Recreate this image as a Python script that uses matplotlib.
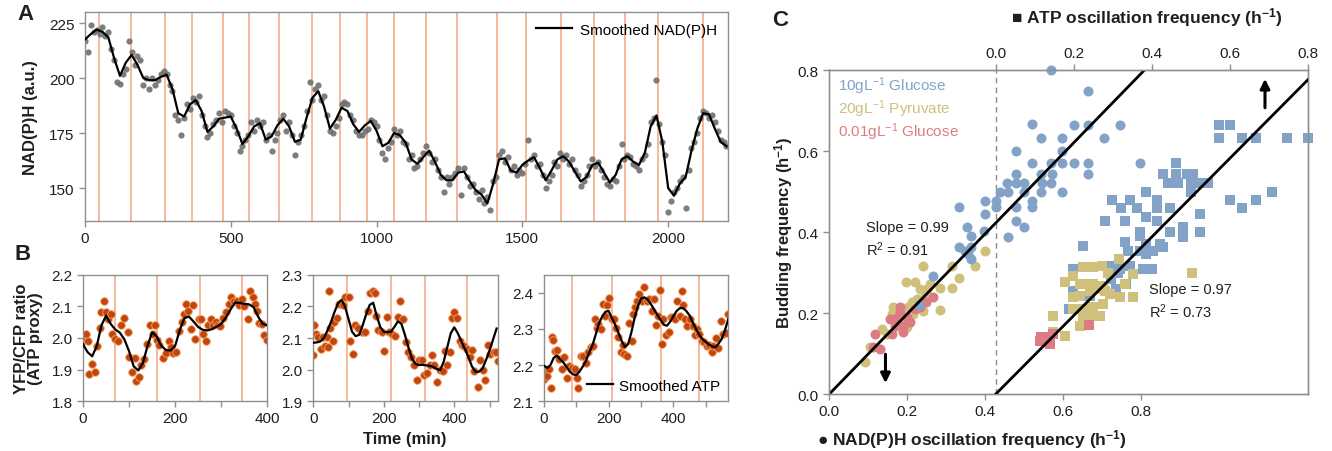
import numpy as np
import matplotlib
matplotlib.use('Agg')
import matplotlib.pyplot as plt
from matplotlib.lines import Line2D

plt.rcParams['font.family'] = ['Liberation Sans', 'DejaVu Sans']
plt.rcParams['mathtext.fontset'] = 'custom'
plt.rcParams['mathtext.rm'] = 'Liberation Sans'
plt.rcParams['mathtext.it'] = 'Liberation Sans:italic'
plt.rcParams['mathtext.bf'] = 'Liberation Sans:bold'

# ---------------- panel A: NAD(P)H trace ----------------
a_time = np.arange(0, 2201, 10)
a_nadph = [
    217, 212, 224, 221, 222, 220, 223, 219, 221, 213,
    208, 198, 197.5, 202, 204, 217, 212, 206, 210, 208,
    197, 200, 195, 200, 197, 199, 202, 203, 202, 197,
    194, 183, 181, 174, 182, 188, 186, 191, 189, 192,
    183, 178, 173, 175, 179, 181, 184, 180, 185, 184,
    183, 178, 175, 167, 169, 172, 174, 180, 176, 181,
    178, 180, 172, 174, 167, 172, 175, 181, 183, 176,
    180, 174, 165, 171, 174, 178, 185, 198, 190, 195,
    197, 190, 192, 183, 176, 175, 178, 182, 188, 189,
    188, 183, 181, 176, 174, 174, 176, 177, 181, 180,
    178, 172, 166, 163, 168, 171, 177, 174, 176, 171,
    170, 163, 165, 159, 160, 163, 166, 169, 166, 162,
    163, 158, 155, 148, 155, 152, 155, 157, 159, 147,
    159, 155, 151, 152, 148, 145, 149, 143, 146, 140,
    153, 155, 165, 167, 162, 164, 158, 160, 156, 158,
    157, 161, 172, 163, 165, 160, 161, 156, 150, 153,
    156, 162, 160, 166, 163, 165, 161, 163, 158, 156,
    151, 153, 156, 160, 163, 160, 162, 158, 155, 152,
    151, 154, 153, 160, 170, 163, 165, 164, 161, 160,
    158, 163, 165, 170, 180, 182, 199, 179, 171, 165,
    139, 144, 148, 150, 153, 155, 141, 158, 168, 171,
    175, 182, 185, 184, 182, 183, 180, 176, 172, 171,
    169,
]
a_smooth_time = np.arange(0, 2201, 20)
a_smooth = [
    217.5, 220, 222, 221, 218.5, 209, 201, 207, 210.5, 206,
    200, 199, 199, 200.5, 201.5, 195, 184, 182.5, 188, 190,
    185, 175.5, 178, 181.5, 182, 182.5, 177, 170, 173.5, 178,
    179.5, 172, 173.5, 178.5, 181.5, 178, 171, 172, 182, 191,
    194, 187, 177, 181, 186.5, 185, 179, 175.5, 178.5, 180.5,
    176, 169, 170.5, 175, 174, 170.5, 163, 161, 164, 167,
    162, 156, 153.5, 153.5, 157, 157.5, 153, 149, 147, 143,
    152, 163, 163.5, 158, 157, 160.5, 162.5, 164, 159, 153.5,
    158, 163, 164.5, 162, 157.5, 153, 155, 160.5, 161.5, 157,
    152.5, 156, 163, 164.5, 162, 160.5, 166, 178, 183, 171,
    150, 146.5, 152, 155, 167, 177, 184, 183.5, 177, 171,
    169,
]
a_events = [48, 158, 274, 367, 473, 563, 666, 779, 875, 968,
            1060, 1170, 1276, 1413, 1513, 1633, 1746, 1852, 1966, 2120]

# ---------------- panel B: ATP (YFP/CFP) traces ----------------
b1_time = [0, 6, 11, 13, 20, 25, 31, 36, 40, 45, 49, 54, 60, 63, 69, 76, 83, 90, 97, 99,
           107, 112, 115, 121, 126, 133, 139, 146, 151, 156, 161, 166, 173, 180, 186, 190,
           195, 202, 209, 214, 220, 223, 228, 234, 238, 244, 251, 256, 261, 267, 272, 277,
           283, 288, 292, 297, 303, 310, 316, 321, 328, 334, 339, 344, 350, 357, 362, 368,
           373, 378, 382, 389, 393, 400]
b1_ratio = [1.989, 2.013, 1.99, 1.886, 1.918, 1.892, 1.976, 2.031, 2.084, 2.119,
            2.082, 2.061, 2.077, 2.013, 1.997, 1.992, 2.04, 2.063, 2.018, 1.939,
            1.892, 1.936, 1.862, 1.877, 1.913, 1.934, 1.982, 2.04, 2.013, 2.04,
            1.995, 1.978, 1.936, 1.952, 1.989, 1.971, 1.952, 1.955, 2.021, 2.05,
            2.077, 2.108, 2.087, 2.029, 2.105, 1.997, 2.061, 2.061, 2.013, 1.992,
            2.042, 2.061, 2.042, 2.052, 2.04, 2.037, 2.063, 2.082, 2.108, 2.129,
            2.119, 2.119, 2.105, 2.124, 2.101, 2.061, 2.15, 2.129, 2.108, 2.087,
            2.048, 2.045, 2.008, 1.995]
b1_smooth = [1.98, 1.955, 1.942, 1.975, 2.04, 2.071, 2.045, 2.027, 2.017, 1.995,
             1.958, 1.91, 1.897, 1.92, 1.975, 2.018, 2.005, 1.975, 1.962, 1.96,
             1.975, 2.025, 2.063, 2.068, 2.052, 2.035, 2.026, 2.024, 2.028, 2.036,
             2.045, 2.065, 2.09, 2.112, 2.112, 2.108, 2.107, 2.098, 2.068, 2.045,
             2.04]
b1_events = [70, 160, 254, 344]

b2_time = [0, 3, 8, 14, 21, 27, 33, 38, 43, 45, 47, 55, 59, 66, 74, 83, 90, 100, 104, 114,
           119, 128, 137, 147, 154, 161, 169, 175, 178, 185, 194, 201, 209, 216, 223, 232,
           239, 245, 254, 264, 270, 277, 286, 294, 301, 309, 315, 322, 330, 337, 343, 351,
           360, 368, 374, 379, 387, 393, 400, 408, 415, 422, 428, 436, 444, 450, 455, 466,
           474, 482, 488, 495, 502, 512, 519, 523]
b2_ratio = [2.047, 2.142, 2.113, 2.103, 2.066, 2.103, 2.076, 2.103, 2.071, 2.25,
            2.131, 2.089, 2.152, 2.163, 2.208, 2.205, 2.23, 2.231, 2.092, 2.05,
            2.14, 2.131, 2.118, 2.118, 2.187, 2.243, 2.25, 2.243, 2.171, 2.124,
            2.118, 2.06, 2.168, 2.118, 2.113, 2.105, 2.166, 2.216, 2.161, 2.087,
            2.055, 2.039, 2.013, 1.968, 2.029, 2.029, 1.981, 1.99, 2.015, 2.045,
            2.013, 1.96, 1.997, 1.994, 2.06, 2.015, 2.055, 2.163, 2.182, 2.163,
            2.089, 2.078, 2.076, 2.064, 2.039, 2.063, 1.994, 1.944, 2.029, 1.997,
            1.968, 2.078, 2.05, 2.057, 2.057, 2.026]
b2_smooth = [2.085, 2.086, 2.089, 2.1, 2.123, 2.15, 2.182, 2.21, 2.221, 2.2,
             2.16, 2.12, 2.106, 2.11, 2.14, 2.175, 2.205, 2.212, 2.17, 2.135,
             2.12, 2.118, 2.12, 2.135, 2.153, 2.145, 2.11, 2.07, 2.035, 2.018,
             2.014, 2.015, 2.013, 2.012, 2.008, 2.002, 1.998, 2.025, 2.07, 2.115,
             2.134, 2.115, 2.09, 2.065, 2.04, 2.01, 1.993, 1.993, 2.003, 2.03,
             2.06, 2.095, 2.13]
b2_events = [95, 220, 316, 437]

b3_time = [0, 5, 8, 16, 21, 24, 29, 34, 41, 47, 55, 62, 70, 78, 86, 96, 103, 106, 113, 122,
           130, 137, 144, 151, 158, 163, 168, 175, 181, 189, 194, 201, 209, 216, 223, 230,
           237, 243, 247, 256, 264, 271, 276, 281, 289, 295, 302, 309, 318, 326, 333, 340,
           346, 354, 359, 364, 369, 377, 385, 392, 398, 405, 412, 419, 426, 431, 436, 443,
           452, 460, 467, 474, 480, 488, 495, 503, 511, 519, 524, 532, 539, 546, 555, 563,
           570]
b3_ratio = [2.162, 2.184, 2.17, 2.188, 2.137, 2.277, 2.27, 2.239, 2.242, 2.216,
            2.188, 2.221, 2.165, 2.198, 2.193, 2.19, 2.165, 2.137, 2.225, 2.224,
            2.205, 2.235, 2.249, 2.253, 2.329, 2.304, 2.314, 2.3, 2.369, 2.337,
            2.367, 2.385, 2.329, 2.327, 2.304, 2.279, 2.235, 2.255, 2.23, 2.225,
            2.318, 2.267, 2.342, 2.36, 2.379, 2.397, 2.379, 2.416, 2.379, 2.383,
            2.351, 2.383, 2.311, 2.337, 2.408, 2.258, 2.329, 2.283, 2.292, 2.332,
            2.332, 2.329, 2.379, 2.337, 2.406, 2.367, 2.329, 2.309, 2.327, 2.309,
            2.283, 2.3, 2.286, 2.267, 2.263, 2.253, 2.255, 2.237, 2.253, 2.274,
            2.246, 2.323, 2.286, 2.29, 2.342]
b3_smooth = [2.198, 2.192, 2.2, 2.22, 2.226, 2.216, 2.207, 2.194, 2.181, 2.174,
             2.172, 2.182, 2.196, 2.212, 2.235, 2.255, 2.285, 2.315, 2.335, 2.348,
             2.35, 2.33, 2.312, 2.29, 2.267, 2.25, 2.258, 2.29, 2.33, 2.362,
             2.385, 2.388, 2.382, 2.37, 2.355, 2.34, 2.326, 2.312, 2.309, 2.32,
             2.335, 2.35, 2.358, 2.358, 2.35, 2.338, 2.318, 2.3, 2.284, 2.272,
             2.264, 2.257, 2.252, 2.249, 2.26, 2.273, 2.298, 2.328]
b3_events = [86, 209, 361, 479]

# ---------------- panel C: frequencies ----------------
# circles: NAD(P)H frequency (bottom axis); squares: ATP frequency (top axis)
glc_nad_x = [0.569, 0.519, 0.543, 0.478, 0.519, 0.569, 0.478, 0.455, 0.478, 0.500,
             0.543, 0.569, 0.438, 0.459, 0.500, 0.543, 0.400, 0.427, 0.519, 0.519,
             0.333, 0.400, 0.427, 0.478, 0.478, 0.500, 0.352, 0.363, 0.397, 0.664,
             0.628, 0.664, 0.745, 0.597, 0.703, 0.597, 0.597, 0.628, 0.664, 0.797,
             0.570, 0.664, 0.545, 0.597, 0.459, 0.333, 0.348, 0.363, 0.356, 0.363,
             0.265, 0.231]
glc_nad_y = [0.800, 0.667, 0.631, 0.599, 0.570, 0.570, 0.543, 0.521, 0.521, 0.521,
             0.543, 0.521, 0.500, 0.500, 0.500, 0.500, 0.477, 0.477, 0.477, 0.461,
             0.461, 0.444, 0.461, 0.461, 0.428, 0.412, 0.412, 0.389, 0.403, 0.749,
             0.665, 0.665, 0.665, 0.631, 0.631, 0.601, 0.570, 0.570, 0.570, 0.570,
             0.543, 0.543, 0.521, 0.500, 0.387, 0.362, 0.354, 0.362, 0.346, 0.333,
             0.292, 0.220]
pyr_nad_x = [0.400, 0.374, 0.333, 0.314, 0.314, 0.284, 0.284, 0.241, 0.197, 0.233,
             0.250, 0.258, 0.245, 0.224, 0.211, 0.203, 0.164, 0.160, 0.190, 0.198,
             0.177, 0.147, 0.104, 0.092, 0.220, 0.239, 0.215, 0.134]
pyr_nad_y = [0.352, 0.315, 0.286, 0.261, 0.315, 0.261, 0.208, 0.315, 0.276, 0.259,
             0.259, 0.272, 0.243, 0.235, 0.226, 0.214, 0.216, 0.198, 0.185, 0.165,
             0.169, 0.148, 0.115, 0.078, 0.276, 0.206, 0.198, 0.160]
low_nad_x = [0.117, 0.113, 0.130, 0.160, 0.168, 0.181, 0.168, 0.190, 0.198, 0.207,
             0.180, 0.220, 0.233, 0.248, 0.267, 0.156, 0.190]
low_nad_y = [0.148, 0.115, 0.111, 0.148, 0.185, 0.202, 0.169, 0.169, 0.189, 0.177,
             0.216, 0.210, 0.216, 0.228, 0.239, 0.185, 0.152]

glc_atp_x = [0.573, 0.600, 0.573, 0.630, 0.667, 0.747, 0.801, 0.462, 0.429, 0.462,
             0.489, 0.506, 0.442, 0.467, 0.501, 0.524, 0.545, 0.501, 0.386, 0.707,
             0.600, 0.667, 0.630, 0.299, 0.344, 0.412, 0.322, 0.361, 0.412, 0.446,
             0.279, 0.330, 0.386, 0.412, 0.480, 0.523, 0.523, 0.369, 0.446, 0.480,
             0.224, 0.330, 0.369, 0.386, 0.420, 0.429, 0.339, 0.369, 0.386, 0.404,
             0.292, 0.318, 0.344, 0.378, 0.400, 0.198, 0.312, 0.296, 0.308, 0.295,
             0.198, 0.241, 0.188, 0.333]
glc_atp_y = [0.665, 0.665, 0.631, 0.631, 0.631, 0.631, 0.631, 0.570, 0.543, 0.543,
             0.543, 0.543, 0.521, 0.521, 0.521, 0.521, 0.521, 0.500, 0.500, 0.500,
             0.479, 0.479, 0.459, 0.479, 0.479, 0.479, 0.459, 0.459, 0.459, 0.459,
             0.428, 0.428, 0.436, 0.428, 0.412, 0.444, 0.399, 0.399, 0.399, 0.387,
             0.366, 0.375, 0.391, 0.370, 0.370, 0.362, 0.354, 0.354, 0.346, 0.354,
             0.317, 0.309, 0.317, 0.309, 0.309, 0.309, 0.300, 0.300, 0.259, 0.284,
             0.255, 0.243, 0.210, 0.272]
pyr_atp_x = [0.502, 0.316, 0.177, 0.198, 0.224, 0.249, 0.271, 0.288, 0.215, 0.233,
             0.249, 0.275, 0.198, 0.215, 0.241, 0.258, 0.279, 0.292, 0.318, 0.352,
             0.352, 0.331, 0.147, 0.215, 0.224, 0.241, 0.267, 0.198, 0.224, 0.249,
             0.275, 0.147, 0.177]
pyr_atp_y = [0.300, 0.333, 0.276, 0.292, 0.313, 0.313, 0.317, 0.300, 0.272, 0.272,
             0.272, 0.267, 0.239, 0.243, 0.255, 0.259, 0.255, 0.247, 0.239, 0.239,
             0.296, 0.272, 0.193, 0.169, 0.193, 0.193, 0.193, 0.210, 0.210, 0.216,
             0.222, 0.152, 0.144]
low_atp_x = [0.138, 0.117, 0.113, 0.138, 0.147, 0.239, 0.126]
low_atp_y = [0.140, 0.140, 0.132, 0.123, 0.148, 0.170, 0.140]

nad_slope, nad_r2 = 0.99, 0.91
atp_slope, atp_r2 = 0.97, 0.73
atp_zero_on_nad_axis = 0.427

ORANGE = '#F5A47C'
SPINE = '#8f8f8f'
TEXT = '#1f1f1f'
BLUE = '#83A2C8'
OLIVE = '#CFC07C'
PINK = '#DC7C82'


def style_axes(ax):
    for s in ax.spines.values():
        s.set_color(SPINE)
        s.set_linewidth(1.0)
    ax.tick_params(colors=SPINE, labelcolor=TEXT, labelsize=11,
                   length=4, width=1, direction='out')


def plot_panel_a(fig):
    ax = fig.add_axes([0.0638, 0.5088, 0.4827, 0.4624])
    for t in a_events:
        ax.axvline(t, color=ORANGE, lw=1.1, zorder=1)
    ax.scatter(a_time, a_nadph, s=20, color='#6f6f6f', lw=0, alpha=0.9, zorder=2)
    ax.plot(a_smooth_time, a_smooth, color='k', lw=1.6, zorder=3,
            label='Smoothed NAD(P)H')
    ax.set_xlim(0, 2205)
    ax.set_ylim(135, 230)
    ax.set_xticks([0, 500, 1000, 1500, 2000])
    ax.set_yticks([150, 175, 200, 225])
    style_axes(ax)
    ax.set_ylabel('NAD(P)H (a.u.)', fontsize=12, fontweight='bold', color=TEXT)
    ax.yaxis.set_label_coords(-0.073, 0.5)
    ax.legend(loc='upper right', frameon=False, fontsize=11, handlelength=2.4,
              handletextpad=0.5, borderaxespad=0.3)


def plot_panel_b(fig):
    specs = [
        (0.0623, b1_time, b1_ratio, b1_smooth, b1_events, (0, 400), (1.8, 2.2),
         [1.8, 1.9, 2.0, 2.1, 2.2], [0, 100, 200, 300, 400]),
        (0.2352, b2_time, b2_ratio, b2_smooth, b2_events, (0, 523), (1.9, 2.3),
         [1.9, 2.0, 2.1, 2.2, 2.3], [0, 100, 200, 300, 400, 500]),
        (0.4084, b3_time, b3_ratio, b3_smooth, b3_events, (0, 570), (2.1, 2.45),
         [2.1, 2.2, 2.3, 2.4], [0, 100, 200, 300, 400, 500]),
    ]
    axes = []
    for left, t, r, sm, ev, xl, yl, yt, xt in specs:
        ax = fig.add_axes([left, 0.1106, 0.1384, 0.2788])
        for e in ev:
            ax.axvline(e, color=ORANGE, lw=1.1, zorder=1)
        ax.scatter(t, r, s=30, color='#C2440F', edgecolor='#F2A15E', lw=0.6, zorder=2)
        sm_t = np.arange(len(sm)) * 10
        ax.plot(np.minimum(sm_t, xl[1]), sm, color='k', lw=1.6, zorder=3)
        ax.set_xlim(*xl)
        ax.set_ylim(*yl)
        ax.set_yticks(yt)
        ax.set_yticklabels([f'{v:.1f}' for v in yt])
        ax.set_xticks(xt)
        ax.set_xticklabels([str(v) if v % 200 == 0 else '' for v in xt])
        style_axes(ax)
        axes.append(ax)

    axes[0].set_ylabel('YFP/CFP ratio\n(ATP proxy)', fontsize=12,
                       fontweight='bold', color=TEXT, linespacing=0.95)
    axes[0].yaxis.set_label_coords(-0.215, 0.5)
    handle = Line2D([], [], color='k', lw=1.6, label='Smoothed ATP')
    axes[2].legend(handles=[handle], loc='lower right', frameon=False, fontsize=11,
                   handlelength=1.7, handletextpad=0.4, borderaxespad=0.15)
    fig.text(405 / 1332, 1 - 440 / 452, 'Time (min)', fontsize=12,
             fontweight='bold', color=TEXT, ha='center', va='center')


def plot_panel_c(fig):
    ax = fig.add_axes([0.6226, 0.1261, 0.3596, 0.7168])
    ax.set_xlim(0, 1.228)
    ax.set_ylim(0, 0.8)
    top = ax.twiny()
    top.set_xlim(-atp_zero_on_nad_axis, 1.228 - atp_zero_on_nad_axis)

    ax.axvline(atp_zero_on_nad_axis, color='#8a8a8a', ls=(0, (4, 3)), lw=1, zorder=1)

    ax.scatter(pyr_nad_x, pyr_nad_y, s=52, marker='o', color=OLIVE, lw=0, zorder=2)
    ax.scatter(low_nad_x, low_nad_y, s=52, marker='o', color=PINK, lw=0, zorder=2)
    ax.scatter(glc_nad_x, glc_nad_y, s=52, marker='o', color=BLUE, lw=0, zorder=2,
               clip_on=False)
    top.scatter(glc_atp_x, glc_atp_y, s=55, marker='s', color=BLUE, lw=0, zorder=2,
                clip_on=False)
    top.scatter(pyr_atp_x, pyr_atp_y, s=55, marker='s', color=OLIVE, lw=0, zorder=2)
    top.scatter(low_atp_x, low_atp_y, s=55, marker='s', color=PINK, lw=0, zorder=2)

    fx = np.array([0, 0.8 / nad_slope])
    ax.plot(fx, nad_slope * fx, color='k', lw=2, zorder=4)
    gx = np.array([0, 0.8])
    top.plot(gx, atp_slope * gx, color='k', lw=2, zorder=4)

    ax.annotate('', xy=(0.144, 0.02), xytext=(0.144, 0.105),
                arrowprops=dict(arrowstyle='-|>', color='k', lw=2.2, mutation_scale=14))
    top.annotate('', xy=(0.69, 0.785), xytext=(0.69, 0.70),
                 arrowprops=dict(arrowstyle='-|>', color='k', lw=2.2, mutation_scale=14))

    ticks = [0, 0.2, 0.4, 0.6, 0.8]
    for a in (ax, top):
        a.set_xticks(ticks)
        a.set_xticklabels([f'{v:.1f}' for v in ticks])
        style_axes(a)
    ax.set_yticks(ticks)
    ax.set_yticklabels([f'{v:.1f}' for v in ticks])
    ax.set_ylabel(r'Budding frequency (h$^{\mathbf{-1}}$)', fontsize=12,
                  fontweight='bold', color=TEXT)
    ax.yaxis.set_label_coords(-0.071, 0.5)

    for yy, label, col in [(0.954, r'10gL$^{-1}$ Glucose', BLUE),
                           (0.882, r'20gL$^{-1}$ Pyruvate', OLIVE),
                           (0.811, r'0.01gL$^{-1}$ Glucose', PINK)]:
        ax.text(0.018, yy, label, color=col, fontsize=11, transform=ax.transAxes,
                va='center', ha='left')

    ax.text(0.094, 0.412, f'Slope = {nad_slope:.2f}', fontsize=10.5, color=TEXT,
            va='center')
    ax.text(0.094, 0.358, rf'R$^2$ = {nad_r2:.2f}', fontsize=10.5, color=TEXT,
            va='center')
    ax.text(0.82, 0.259, f'Slope = {atp_slope:.2f}', fontsize=10.5, color=TEXT,
            va='center')
    ax.text(0.82, 0.205, rf'R$^2$ = {atp_r2:.2f}', fontsize=10.5, color=TEXT,
            va='center')

    fig.text(972 / 1332, 1 - 440 / 452,
             '\u25CF NAD(P)H oscillation frequency (h$^{\\mathbf{-1}}$)',
             fontsize=12.5, fontweight='bold', color=TEXT, ha='center', va='center')
    fig.text(1147 / 1332, 1 - 18 / 452,
             '\u25A0 ATP oscillation frequency (h$^{\\mathbf{-1}}$)',
             fontsize=12.5, fontweight='bold', color=TEXT, ha='center', va='center')


fig = plt.figure(figsize=(13.32, 4.52), dpi=100)
plot_panel_a(fig)
plot_panel_b(fig)
plot_panel_c(fig)
for lx, ly, letter in [(25, 15, 'A'), (23, 255, 'B'), (780, 20, 'C')]:
    fig.text(lx / 1332, 1 - ly / 452, letter, fontsize=16, fontweight='bold',
             color=TEXT, ha='center', va='center')
plt.savefig('out.png', dpi=100)
plt.close()
